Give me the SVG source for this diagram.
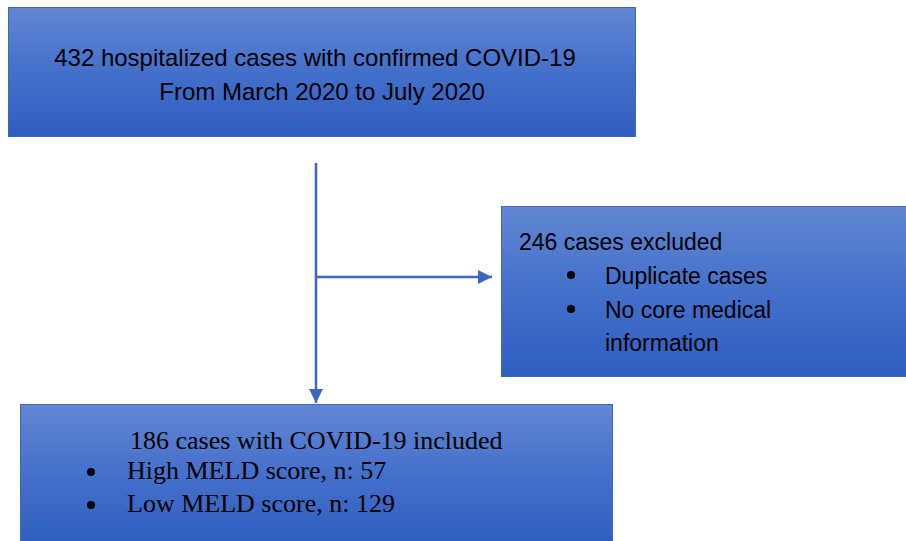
<svg xmlns="http://www.w3.org/2000/svg" width="906" height="541" viewBox="0 0 906 541">
<defs>
<linearGradient id="g" x1="0" y1="0" x2="0" y2="1">
<stop offset="0" stop-color="#6286d2"/>
<stop offset="0.5" stop-color="#4470cb"/>
<stop offset="1" stop-color="#2f5ebf"/>
</linearGradient>
<marker id="ah" viewBox="0 0 10 10" refX="10" refY="5" markerWidth="14" markerHeight="14" markerUnits="userSpaceOnUse" orient="auto">
<path d="M0,0 L10,5 L0,10 Z" fill="#3a66c4"/>
</marker>
<style>
.box{fill:url(#g);stroke:#3f66b8;stroke-width:1}
.sans{font-family:"Liberation Sans",Arial,sans-serif;font-size:23px;fill:#000}
.big{font-size:24px}
.serif{font-family:"Liberation Serif","Times New Roman",serif;font-size:26px;fill:#000}
.line{stroke:#3a66c4;stroke-width:2.5;fill:none}
</style>
</defs>
<rect width="906" height="541" fill="#fff"/>
<g id="connectors">
<path class="line" d="M316,163 V403" marker-end="url(#ah)"/>
<path class="line" d="M316,277 H492" marker-end="url(#ah)"/>
</g>
<g id="node-total">
<rect class="box" x="8.5" y="7.5" width="627" height="129"/>
<text class="sans big" x="315" y="66" text-anchor="middle">432 hospitalized cases with confirmed COVID-19</text>
<text class="sans big" x="322" y="100" text-anchor="middle">From March 2020 to July 2020</text>
</g>
<g id="node-excluded">
<rect class="box" x="501.5" y="206.5" width="410" height="170"/>
<text class="sans" x="519" y="250">246 cases excluded</text>
<circle cx="571" cy="275" r="4" fill="#000"/>
<text class="sans" x="605" y="284">Duplicate cases</text>
<circle cx="571" cy="309" r="4" fill="#000"/>
<text class="sans" x="605" y="318">No core medical</text>
<text class="sans" x="605" y="351">information</text>
</g>
<g id="node-included">
<rect class="box" x="20.5" y="404.5" width="592" height="142"/>
<text class="serif" x="130" y="449">186 cases with COVID-19 included</text>
<circle cx="91" cy="472" r="4" fill="#000"/>
<text class="serif" x="127" y="479">High MELD score, n: 57</text>
<circle cx="91" cy="505" r="4" fill="#000"/>
<text class="serif" x="127" y="512">Low MELD score, n: 129</text>
</g>
</svg>
